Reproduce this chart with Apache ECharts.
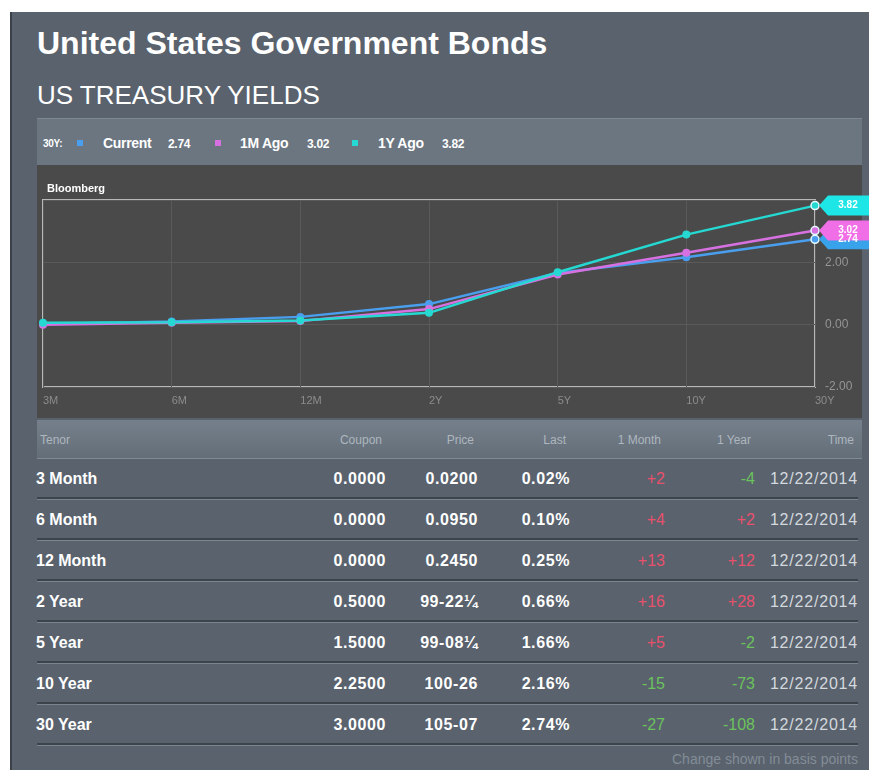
<!DOCTYPE html>
<html>
<head>
<meta charset="utf-8">
<script src="https://cdn.jsdelivr.net/npm/echarts@6/dist/echarts.min.js"></script>
<style>
  body{margin:0;background:#fff;font-family:"Liberation Sans",Arial,sans-serif;}
  #panel{position:absolute;left:10px;top:12px;width:859px;height:758px;background:#59626d;border-left:2px solid #3b4148;}
  .abs{position:absolute;white-space:nowrap;}
  #title{left:37px;top:25px;font-size:32px;font-weight:bold;color:#fff;}
  #sub{left:37px;top:80px;font-size:26px;color:#fff;}
  #legbar{left:37px;top:118px;width:825px;height:47px;background:#6b7681;border-top:1px solid #7d8893;}
  #legbar span{position:absolute;top:16px;font-weight:bold;color:#fff;font-size:14px;letter-spacing:-0.3px;}
  #legbar i{position:absolute;top:21px;width:6px;height:6px;}
  #chartbg{left:37px;top:165px;width:825px;height:253px;background:#4a4a4a;}
  #chart{position:absolute;left:37px;top:165px;width:832px;height:253px;}
  #thead{left:37px;top:420px;width:825px;height:38px;background:linear-gradient(#75808c,#636e79);border-bottom:1px solid #7f8a95;}
  .hd{position:absolute;font-size:12px;color:#aeb6be;}
  .cell{position:absolute;font-size:16px;font-weight:bold;color:#fff;white-space:nowrap;}
  .sep{position:absolute;left:37px;width:821px;height:2px;background:#3c434b;border-bottom:1px solid #7a858f;}
  #foot{right:11px;top:751px;font-size:14px;color:#838d97;}
</style>
</head>
<body>
<div id="panel"></div>
<div class="abs" id="title">United States Government Bonds</div>
<div class="abs" id="sub">US TREASURY YIELDS</div>
<div class="abs" id="legbar"></div>
<div class="abs" id="chartbg"></div>
<div id="chart"></div>
<div class="abs" id="thead"></div>
<div id="rows"></div>
<div class="abs" id="foot">Change shown in basis points</div>
<script>
// 曲线数据 (%)
var categories = ['3M','6M','12M','2Y','5Y','10Y','30Y'];
var current    = [0.02, 0.10, 0.25, 0.66, 1.66, 2.16, 2.74];
var monthAgo   = [0.00, 0.06, 0.12, 0.50, 1.61, 2.31, 3.02];
var yearAgo    = [0.06, 0.08, 0.13, 0.38, 1.68, 2.89, 3.82];
var yTicks     = [-2, 0, 2, 4];

// 表格数据
var tenors   = ['3 Month','6 Month','12 Month','2 Year','5 Year','10 Year','30 Year'];
var coupons  = ['0.0000','0.0000','0.0000','0.5000','1.5000','2.2500','3.0000'];
var prices   = ['0.0200','0.0950','0.2450','99-22\u00bc','99-08\u00bc','100-26','105-07'];
var lastYld  = ['0.02%','0.10%','0.25%','0.66%','1.66%','2.16%','2.74%'];
var chgMonth = [2, 4, 13, 16, 5, -15, -27];
var chgYear  = [-4, 2, 12, 28, -2, -73, -108];
var times    = ['12/22/2014','12/22/2014','12/22/2014','12/22/2014','12/22/2014','12/22/2014','12/22/2014'];
var headers  = ['Tenor','Coupon','Price','Last','1 Month','1 Year','Time'];

var seriesNames = ['Current','1M Ago','1Y Ago'];
var lineColors  = ['#4a9eee','#d771e2','#25d9d2'];
var tagColors   = ['#38a3ea','#f06fe6','#1fe6e6'];
var seriesData  = [current, monthAgo, yearAgo];

// 图例栏
var leg = document.getElementById('legbar');
var legHtml = '<span style="left:6px;font-size:10px;top:19px">30Y:</span>';
var legX = [[40,66,131],[178,203,270],[315,341,405]];
for (var k=0;k<3;k++){
  var last = seriesData[k][seriesData[k].length-1];
  legHtml += '<i style="left:'+legX[k][0]+'px;background:'+lineColors[k]+'"></i>'
          +  '<span style="left:'+legX[k][1]+'px">'+seriesNames[k]+'</span>'
          +  '<span style="left:'+legX[k][2]+'px;font-size:12px;top:18px">'+last.toFixed(2)+'</span>';
}
leg.innerHTML = legHtml;

// 表格
var colRight = [null, 386, 478, 570, 665, 755, 858];
var rowsEl = document.getElementById('rows');
var html = '';
for (var c=0;c<headers.length;c++){
  if (c===0) html += '<div class="hd" style="left:40px;top:433px">'+headers[c]+'</div>';
  else html += '<div class="hd" style="right:'+(869-colRight[c]+4)+'px;top:433px">'+headers[c]+'</div>';
}
function fmtChg(v){ return (v>0?'+':'')+v; }
function chgColor(v){ return v>0 ? '#e9506c' : '#6cc25c'; }
for (var r=0;r<tenors.length;r++){
  var rowTop = 459 + r*41 + 11;
  var vals = [tenors[r], coupons[r], prices[r], lastYld[r], fmtChg(chgMonth[r]), fmtChg(chgYear[r]), times[r]];
  for (var c=0;c<vals.length;c++){
    var st = 'top:'+rowTop+'px;';
    if (c===0) st += 'left:36px;';
    else st += 'right:'+(869-colRight[c])+'px;';
    if (c===4) st += 'color:'+chgColor(chgMonth[r])+';font-weight:normal;';
    if (c===5) st += 'color:'+chgColor(chgYear[r])+';font-weight:normal;';
    if (c===6) st += 'color:#d4d9de;font-weight:normal;letter-spacing:0.8px;';
    if (c>0 && c<4) st += 'letter-spacing:0.6px;';
    html += '<div class="cell" style="'+st+'">'+vals[c]+'</div>';
  }
  html += '<div class="sep" style="top:'+(459 + r*41 + 38)+'px"></div>';
}
rowsEl.innerHTML = html;

// 曲线图
var myChart = echarts.init(document.getElementById('chart'));
var tagPath = 'path://M0,10 L9,0 L50,0 L50,20 L9,20 Z';
var series = [];
for (var k=0;k<3;k++){
  var d = seriesData[k].map(function(v,i,arr){
    if (i===arr.length-1) return {value:v, itemStyle:{borderColor:'#e6fbff',borderWidth:1.5}};
    return v;
  });
  var lastV = seriesData[k][seriesData[k].length-1];
  series.push({
    name: seriesNames[k],
    type: 'line',
    data: d,
    symbol: 'circle',
    symbolSize: 8,
    lineStyle: {width: 2.5, color: lineColors[k]},
    itemStyle: {color: lineColors[k]},
    markPoint: {
      symbol: tagPath,
      symbolSize: [50, 20],
      symbolOffset: [29, 0],
      itemStyle: {color: tagColors[k]},
      label: {show: true, color: '#fff', fontWeight: 'bold', fontSize: 10, offset:[4,0], formatter: function(p){ return p.value.toFixed(2); }},
      data: [{coord: [categories[categories.length-1], lastV], value: lastV}]
    }
  });
}
myChart.setOption({
  animation: false,
  title: {text: 'Bloomberg', left: 5, top: 13, textStyle: {color: '#fff', fontSize: 11, fontWeight: 'bold', fontFamily: 'Liberation Sans'}},
  grid: {left: 6, right: 54, top: 35, bottom: 31, show: true, borderColor: '#b8b8b8', borderWidth: 2},
  xAxis: {
    type: 'category',
    data: categories,
    boundaryGap: false,
    axisLine: {show: false},
    axisTick: {show: false},
    axisLabel: {color: '#8c8c8c', fontSize: 11, align: 'left', margin: 8},
    splitLine: {show: true, lineStyle: {color: '#5a5a5a'}}
  },
  yAxis: {
    type: 'value',
    position: 'right',
    min: yTicks[0],
    max: yTicks[yTicks.length-1],
    interval: 2,
    axisLine: {show: false},
    axisTick: {show: false},
    axisLabel: {color: '#959595', fontSize: 12, margin: 10, padding: [8,0,0,0],
      formatter: function(v){ return v === yTicks[yTicks.length-1] ? '' : v.toFixed(2); }},
    splitLine: {show: true, lineStyle: {color: '#5a5a5a'}}
  },
  series: series
});
</script>
</body>
</html>
